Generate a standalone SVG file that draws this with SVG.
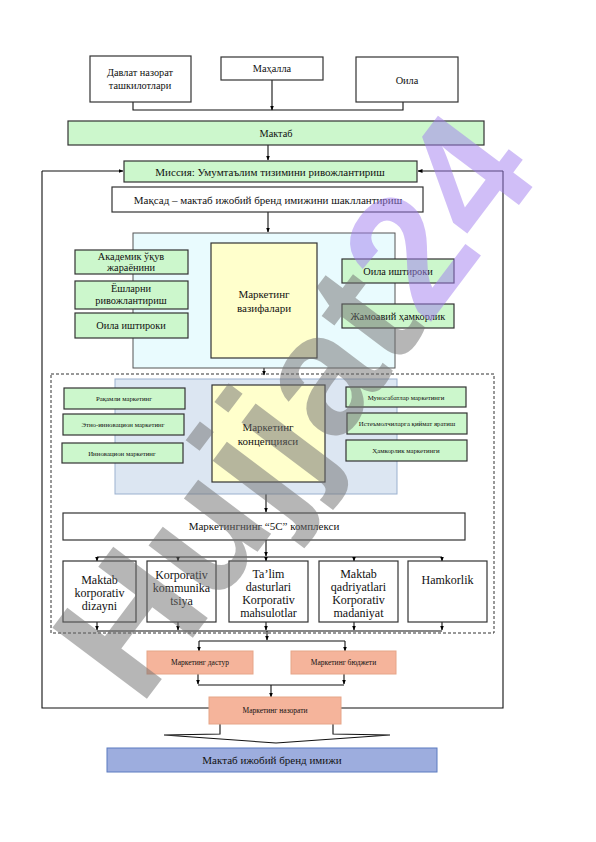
<svg xmlns="http://www.w3.org/2000/svg" width="596" height="842" viewBox="0 0 596 842">
<defs>
<marker id="ah" viewBox="0 0 10 10" refX="9" refY="5" markerWidth="5" markerHeight="5" orient="auto" markerUnits="userSpaceOnUse">
<path d="M0,1 L10,5 L0,9 z" fill="#000"/>
</marker>
</defs>
<style>
text{font-family:"Liberation Serif","Times New Roman",serif;fill:#111;text-anchor:middle}
.b{fill:#fff;stroke:#333;stroke-width:1.2}
.g{fill:#ccf7cc;stroke:#333;stroke-width:1.2}
.y{fill:#ffffcc;stroke:#333;stroke-width:1.2}
.cy{fill:#e9fbfe;stroke:#555;stroke-width:1}
.bl{fill:#dce6f2;stroke:#9bb1cf;stroke-width:1}
.s{fill:#f5b49b;stroke:#e6a588;stroke-width:1}
.fin{fill:#9dadde;stroke:#5b7bc0;stroke-width:1}
.c{fill:none;stroke:#111;stroke-width:1.1}
.a{fill:none;stroke:#111;stroke-width:1.1;marker-end:url(#ah)}
.f11{font-size:11px}
.f10{font-size:10.3px}
.f7{font-size:6.8px}
.f75{font-size:7.5px}
.f12{font-size:12px}
.wm{font-family:"Liberation Sans",Arial,sans-serif;font-weight:bold;text-anchor:start}
</style>

<g id="connectors">
<path class="c" d="M133,102 V110 H403 V102"/>
<path class="a" d="M272,80 V110"/>
<path class="a" d="M268,145 V160"/>
<path class="c" d="M42,171 V708 H503 V171"/>
<path class="a" d="M42,171 H123"/>
<path class="a" d="M503,171 H418"/>
<path class="a" d="M268,212 V232"/>
<path class="a" d="M211,262 H189"/>
<path class="a" d="M211,296 H189"/>
<path class="a" d="M211,325 H189"/>
<path class="a" d="M317,273 H341"/>
<path class="a" d="M317,315 H341"/>
<path class="a" d="M264,358 V375"/>
<path class="a" d="M212,405 H185"/>
<path class="a" d="M212,428 H185"/>
<path class="a" d="M212,453 H184"/>
<path class="a" d="M325,398 H345"/>
<path class="a" d="M325,425 H346"/>
<path class="a" d="M320,450 H345"/>
<path class="a" d="M266,482 V512"/>
<path class="a" d="M266,540 V556"/>
<path class="c" d="M97,557 H442"/>
<path class="a" d="M97,557 V561"/>
<path class="a" d="M178,557 V561"/>
<path class="a" d="M266,557 V561"/>
<path class="a" d="M354,557 V561"/>
<path class="a" d="M442,557 V561"/>
<path class="a" d="M97,622 V630"/>
<path class="a" d="M178,622 V630"/>
<path class="a" d="M266,622 V630"/>
<path class="a" d="M354,622 V630"/>
<path class="a" d="M442,622 V630"/>
<path class="c" d="M97,631 H442"/>
<path class="a" d="M267,631 V640"/>
<path class="c" d="M199,641 H345"/>
<path class="a" d="M199,641 V651"/>
<path class="a" d="M345,641 V651"/>
<path class="a" d="M198,674 V684"/>
<path class="a" d="M344,674 V684"/>
<path class="c" d="M198,685 H344"/>
<path class="a" d="M271,685 V697"/>
<path class="c" d="M220,724 V734 L164,735 L276,743 L390,735 L333,734 V724"/>
</g>

<g id="n-davlat"><rect class="b" x="90" y="56" width="101" height="46"/><text class="f10" x="140" y="76">Давлат назорат</text><text class="f10" x="140" y="89">ташкилотлари</text></g>
<g id="n-mahalla"><rect class="b" x="221" y="57" width="102" height="23"/><text class="f10" x="272" y="72">Маҳалла</text></g>
<g id="n-oila-top"><rect class="b" x="356" y="57" width="102" height="45"/><text class="f10" x="407" y="84">Оила</text></g>
<g id="n-maktab"><rect class="g" x="68" y="121" width="416" height="24"/><text class="f10" x="276" y="137">Мактаб</text></g>
<g id="n-missiya"><rect class="g" x="124" y="161" width="293" height="21"/><text class="f11" x="270" y="175.5">Миссия: Умумтаълим тизимини ривожлантириш</text></g>
<g id="n-maqsad"><rect class="b" x="112" y="187" width="311" height="25"/><text class="f11" x="268" y="203.5">Мақсад – мактаб ижобий бренд имижини шакллантириш</text></g>

<g id="n-vazifa-area"><rect class="cy" x="133" y="233" width="262" height="135"/></g>
<g id="n-vazifalari"><rect class="y" x="211" y="243" width="106" height="115"/><text class="f11" x="264" y="298">Маркетинг</text><text class="f11" x="264" y="312">вазифалари</text></g>
<g id="n-akademik"><rect class="g" x="75" y="250" width="113" height="24"/><text class="f10" x="131" y="260">Академик ўқув</text><text class="f10" x="131" y="271">жараёнини</text></g>
<g id="n-yoshlar"><rect class="g" x="75" y="281" width="113" height="28"/><text class="f10" x="131" y="292">Ёшларни</text><text class="f10" x="131" y="304">ривожлантириш</text></g>
<g id="n-oila-l"><rect class="g" x="75" y="313" width="113" height="25"/><text class="f10" x="131" y="329">Оила иштироки</text></g>
<g id="n-oila-r"><rect class="g" x="342" y="259" width="112" height="24"/><text class="f10" x="398" y="275">Оила иштироки</text></g>
<g id="n-jamoaviy"><rect class="g" x="342" y="304" width="112" height="24"/><text class="f10" x="398" y="320">Жамоавий ҳамкорлик</text></g>

<g id="n-dashed"><rect x="51" y="374" width="443" height="259" fill="none" stroke="#333" stroke-width="1" stroke-dasharray="3,2"/></g>
<g id="n-konsep-area"><rect class="bl" x="115" y="379" width="282" height="115"/></g>
<g id="n-konsepsiya"><rect class="y" x="212" y="385" width="113" height="97"/><text class="f11" x="268" y="431">Маркетинг</text><text class="f11" x="268" y="445">концепцияси</text></g>
<g id="n-raqamli"><rect class="g" x="64" y="388" width="121" height="21"/><text class="f7" x="124" y="401">Рақамли маркетинг</text></g>
<g id="n-etno"><rect class="g" x="63" y="414" width="121" height="21"/><text class="f7" x="123" y="427">Этно-инновацион маркетинг</text></g>
<g id="n-innov"><rect class="g" x="62" y="443" width="121" height="20"/><text class="f7" x="122" y="455.5">Инновацион маркетинг</text></g>
<g id="n-munosabat"><rect class="g" x="346" y="387" width="120" height="20"/><text class="f7" x="406" y="399.5">Муносабатлар маркетинги</text></g>
<g id="n-istemol"><rect class="g" x="347" y="413" width="120" height="21"/><text class="f7" x="407" y="426">Истеъмолчиларга қиймат яратиш</text></g>
<g id="n-hamkor-m"><rect class="g" x="346" y="440" width="121" height="21"/><text class="f7" x="406" y="453">Ҳамкорлик маркетинги</text></g>

<g id="n-5c"><rect class="b" x="63" y="513" width="402" height="27"/><text class="f11" x="264" y="530">Маркетингнинг “5C” комплекси</text></g>
<g id="n-c1"><rect class="b" x="63" y="561" width="73" height="61"/><text class="f12" x="99.5" y="584">Maktab</text><text class="f12" x="99.5" y="597">korporativ</text><text class="f12" x="99.5" y="610">dizayni</text></g>
<g id="n-c2"><rect class="b" x="147" y="561" width="69" height="61"/><text class="f12" x="181.5" y="579">Korporativ</text><text class="f12" x="181.5" y="592">kommunika</text><text class="f12" x="181.5" y="605">tsiya</text></g>
<g id="n-c3"><rect class="b" x="229" y="561" width="79" height="61"/><text class="f12" x="268.5" y="578">Ta’lim</text><text class="f12" x="268.5" y="591">dasturlari</text><text class="f12" x="268.5" y="604">Korporativ</text><text class="f12" x="268.5" y="617">mahsulotlar</text></g>
<g id="n-c4"><rect class="b" x="319" y="561" width="79" height="61"/><text class="f12" x="358.5" y="578">Maktab</text><text class="f12" x="358.5" y="591">qadriyatlari</text><text class="f12" x="358.5" y="604">Korporativ</text><text class="f12" x="358.5" y="617">madaniyat</text></g>
<g id="n-c5"><rect class="b" x="408" y="561" width="79" height="61"/><text class="f12" x="447.5" y="584">Hamkorlik</text></g>

<g id="n-dastur"><rect class="s" x="147" y="651" width="106" height="23"/><text class="f75" x="200" y="665">Маркетинг дастур</text></g>
<g id="n-budjet"><rect class="s" x="291" y="651" width="105" height="23"/><text class="f75" x="343.5" y="665">Маркетинг бюджети</text></g>
<g id="n-nazorat"><rect class="s" x="209" y="697" width="132" height="27"/><text class="f75" x="275" y="713">Маркетинг назорати</text></g>
<g id="n-brand"><rect class="fin" x="107" y="748" width="330" height="24"/><text class="f11" x="272" y="764">Мактаб ижобий бренд имижи</text></g>

<g id="watermark" opacity="0.5">
<text class="wm" font-size="172" transform="translate(140,708) rotate(-53)"><tspan fill="#707070">Hujjat</tspan><tspan fill="#a27ff0">24</tspan></text>
</g>
</svg>
